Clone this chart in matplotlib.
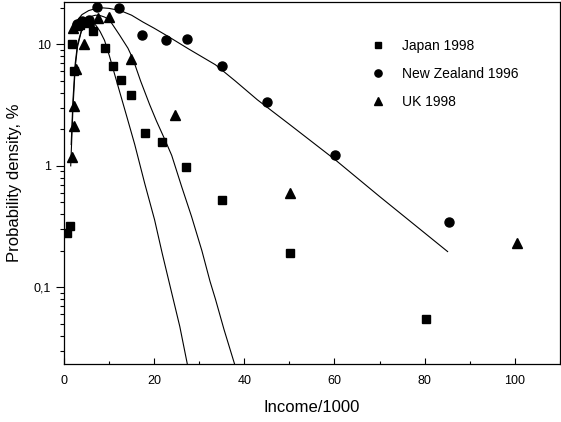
import matplotlib
matplotlib.use("Agg")
import matplotlib.pyplot as plt
from matplotlib.ticker import LogLocator, NullFormatter, FixedLocator, MultipleLocator

plt.rcParams['font.family'] = ['Liberation Sans', 'DejaVu Sans']

# data points (income in thousands, density in %)
japan_x = [0.6, 1.3, 1.8, 2.3, 3.5, 5.0, 6.5, 9.0, 10.8, 12.7, 14.9, 17.9, 21.8, 27.0, 35.0, 50.1, 80.4]
japan_y = [0.28, 0.32, 10.0, 6.0, 14.5, 15.0, 12.8, 9.3, 6.6, 5.1, 3.8, 1.88, 1.56, 0.98, 0.52, 0.19, 0.055]

nz_x = [2.8, 4.0, 5.5, 7.4, 12.3, 17.3, 22.6, 27.4, 35.0, 45.1, 60.2, 85.5]
nz_y = [14.8, 15.5, 16.0, 20.3, 20.0, 12.0, 10.8, 11.0, 6.6, 3.38, 1.22, 0.344]

uk_x = [1.7, 2.2, 2.2, 2.6, 2.0, 3.0, 4.5, 5.5, 7.5, 9.9, 14.8, 24.6, 50.2, 100.5]
uk_y = [1.19, 2.13, 3.1, 6.3, 13.6, 14.5, 10.0, 15.5, 16.5, 16.7, 7.6, 2.63, 0.60, 0.231]

# fitted curves, traced point by point
japan_fit_x = [1.6, 2.0, 2.5, 3.0, 4.0, 5.0, 6.0, 7.0, 8.0, 9.0, 10.1, 11.5, 12.8, 14.0, 15.7, 17.9, 20.1, 21.8, 23.9, 25.7, 27.4]
japan_fit_y = [1.5, 3.5, 7.0, 10.0, 13.5, 15.0, 15.2, 14.5, 12.8, 10.8, 8.0, 5.25, 3.57, 2.5, 1.5, 0.72, 0.36, 0.19, 0.09, 0.0475, 0.023]

uk_fit_x = [1.5, 2.0, 2.5, 3.0, 4.0, 5.0, 6.0, 7.0, 8.0, 9.0, 10.1, 12.3, 14.2, 15.3, 17.0, 19.0, 20.5, 22.4, 23.9, 26.1, 28.3, 30.6, 32.4, 33.6, 35.5, 37.9]
uk_fit_y = [1.0, 3.0, 6.5, 9.5, 13.5, 15.8, 17.0, 17.4, 17.3, 16.8, 15.9, 12.0, 9.3, 7.6, 5.0, 3.2, 2.35, 1.64, 1.22, 0.676, 0.383, 0.2, 0.112, 0.08, 0.045, 0.023]

nz_fit_x = [2.0, 2.7, 4.0, 5.5, 7.0, 8.5, 10.0, 12.5, 15.0, 17.5, 20.0, 23.0, 27.6, 33.6, 38.0, 42.9, 50.0, 60.2, 70.0, 85.1]
nz_fit_y = [13.5, 15.4, 17.6, 19.0, 19.7, 20.0, 19.8, 19.0, 17.4, 15.3, 13.6, 11.7, 9.2, 6.8, 5.0, 3.5, 2.2, 1.12, 0.56, 0.197]

fig = plt.figure(figsize=(5.61, 4.22), dpi=100)
ax = fig.add_axes([0.114, 0.137, 0.884, 0.858])

ax.plot(japan_fit_x, japan_fit_y, color='black', lw=0.8)
ax.plot(uk_fit_x, uk_fit_y, color='black', lw=0.8)
ax.plot(nz_fit_x, nz_fit_y, color='black', lw=0.8)

ax.plot(japan_x, japan_y, 's', color='black', ms=6, label='Japan 1998')
ax.plot(nz_x, nz_y, 'o', color='black', ms=6.5, label='New Zealand 1996')
ax.plot(uk_x, uk_y, '^', color='black', ms=7, label='UK 1998')

ax.set_yscale('log')
ax.set_xlim(0, 110)
ax.set_ylim(0.0233, 22.3)

ax.yaxis.set_major_locator(FixedLocator([0.1, 1, 10]))
ax.set_yticklabels(['0,1', '1', '10'])
ax.yaxis.set_minor_locator(LogLocator(base=10, subs=range(2, 10)))
ax.yaxis.set_minor_formatter(NullFormatter())
ax.xaxis.set_major_locator(MultipleLocator(20))
ax.xaxis.set_minor_locator(MultipleLocator(10))

ax.tick_params(axis='y', which='major', direction='out', length=6, width=0.8, labelsize=9)
ax.tick_params(axis='y', which='minor', direction='out', length=3, width=0.8)
ax.tick_params(axis='x', which='major', direction='in', length=4, width=0.8, labelsize=9, pad=8)
ax.tick_params(axis='x', which='minor', direction='in', length=2.5, width=0.8)

for s in ax.spines.values():
    s.set_linewidth(0.9)

ax.set_xlabel('Income/1000', fontsize=12, labelpad=9)
ax.set_ylabel('Probability density, %', fontsize=12, labelpad=8)

ax.legend(loc='upper left', bbox_to_anchor=(0.594, 0.932), frameon=False, fontsize=10,
          handlelength=1.0, handletextpad=1.2, labelspacing=1.0, markerscale=0.8)

fig.savefig('out.png', dpi=100)
